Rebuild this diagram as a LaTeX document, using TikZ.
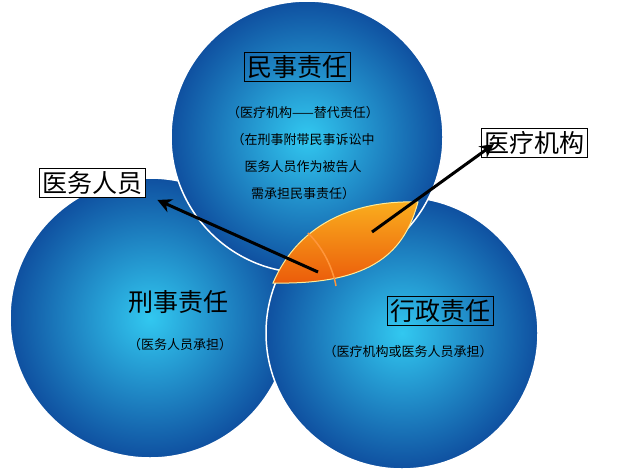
\documentclass[tikz,border=0pt]{standalone}
\usepackage{fontspec}
\usetikzlibrary{arrows.meta}
\setmainfont{Noto Sans CJK SC}
\definecolor{bin}{RGB}{50,200,240}
\definecolor{bout}{RGB}{15,80,160}
\definecolor{otop}{RGB}{250,175,30}
\definecolor{obot}{RGB}{235,90,10}
\definecolor{oedge}{RGB}{255,235,150}
\definecolor{oline}{RGB}{255,150,60}
\begin{document}
\begin{tikzpicture}[x=1pt,y=-1pt,
  ball/.style={draw=white,line width=1.5pt,inner color=bin,outer color=bout},
  lbl/.style={draw=black,line width=0.8pt,fill=white,font=\fontsize{25}{28}\selectfont,inner sep=3pt},
  blbl/.style={draw=black,line width=0.8pt,font=\fontsize{25}{28}\selectfont,inner sep=3pt},
  sm/.style={font=\fontsize{13}{27}\selectfont,align=center},
  arr/.style={line width=3pt,-{Stealth[length=14pt,width=14pt]}}]
\useasboundingbox (0,0) rectangle (631,474);
\fill[white] (0,0) rectangle (631,474);
\shade[ball] (150,318) circle[radius=140];
\shade[ball] (402,333) circle[radius=136];
\shade[ball] (307,137) circle[radius=136];
\path[top color=otop,bottom color=obot,draw=oedge,line width=1pt]
  (273,283) .. controls (300,220) and (360,200) .. (418,202) .. controls (405,250) and (375,285) .. cycle;
\draw[oline,line width=1.5pt] (308,233) .. controls (325,250) and (333,270) .. (336,286);
\node[blbl] (ms) at (297,67) {民事责任};
\node[sm] (msd) at (303,153) {（医疗机构——替代责任）\\（在刑事附带民事诉讼中\\医务人员作为被告人\\需承担民事责任）};
\node[lbl] (yw) at (92,183) {医务人员};
\node[lbl] (yl) at (534,143) {医疗机构};
\node[font=\fontsize{25}{28}\selectfont] (xs) at (178,302) {刑事责任};
\node[sm] (xsd) at (180,345) {（医务人员承担）};
\node[blbl] (xz) at (440,311) {行政责任};
\node[sm] (xzd) at (408,352) {（医疗机构或医务人员承担）};
\coordinate (a1) at (318,272);
\coordinate (a2) at (372,232);
\draw[arr] (a1) -- ([xshift=12pt,yshift=-2pt]yw.south east);
\draw[arr] (a2) -- ([xshift=-40pt,yshift=14pt]yl.south);
\end{tikzpicture}
\end{document}
